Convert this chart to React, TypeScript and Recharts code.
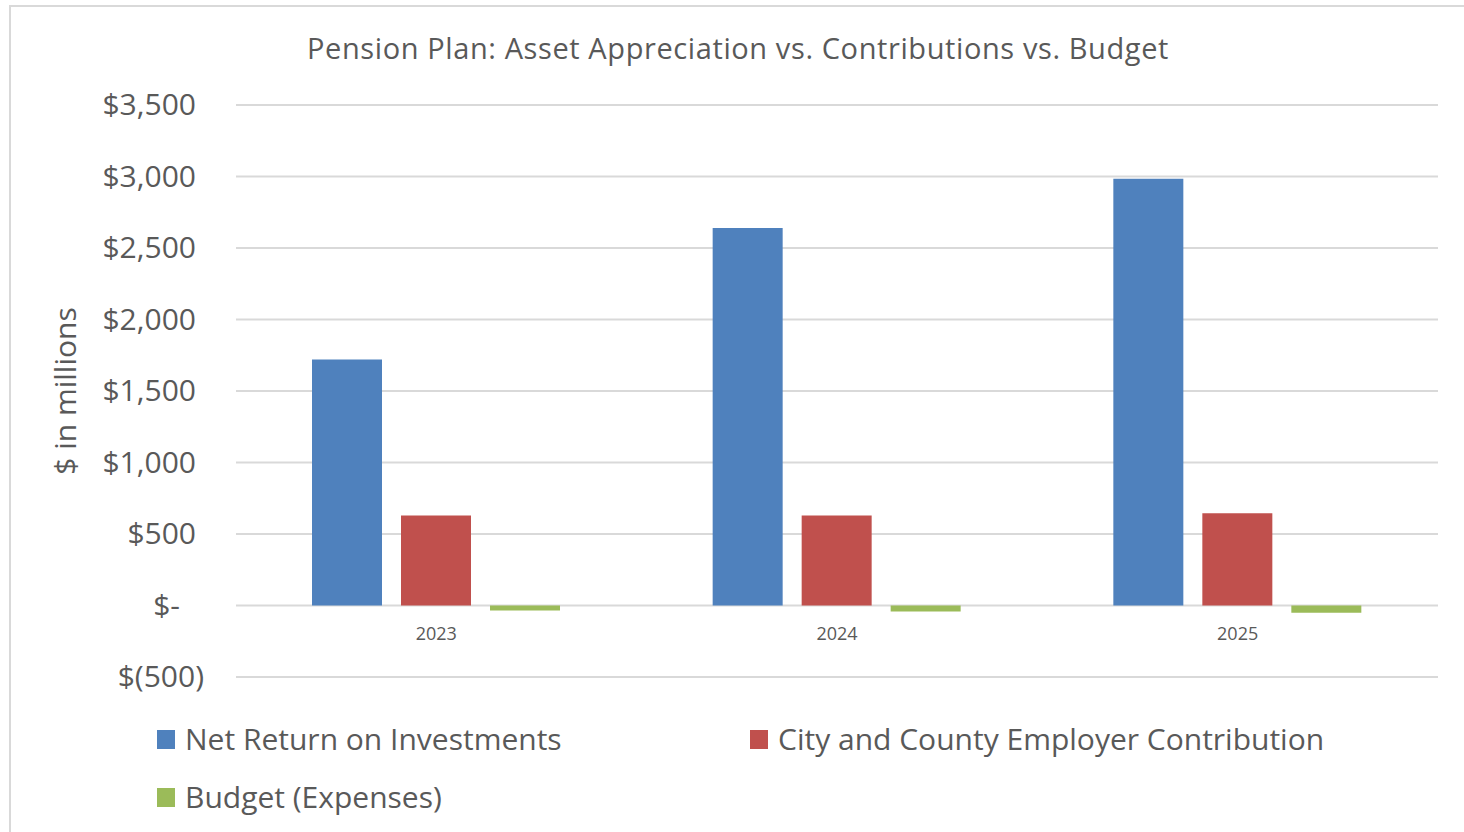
import React from 'react';
import { BarChart, Bar, XAxis, YAxis, CartesianGrid, Legend } from 'recharts';

const years = ['2023', '2024', '2025'];
const netReturn = [1720, 2640, 2985];
const employerContribution = [630, 630, 645];
const budgetExpenses = [-35, -42, -50];
const yTicks = [-500, 0, 500, 1000, 1500, 2000, 2500, 3000, 3500];

const seriesNames = [
  'Net Return on Investments',
  'City and County Employer Contribution',
  'Budget (Expenses)',
];
const seriesColors = ['#4F81BD', '#C0504D', '#9BBB59'];

const data = years.map((y, i) => ({
  year: y,
  net: netReturn[i],
  emp: employerContribution[i],
  bud: budgetExpenses[i],
}));

const FONT = '"Open Sans", sans-serif';
const TEXT = '#595959';

const fmtY = (v: number) => {
  if (v === 0) return '$-';
  if (v < 0) return `$(${Math.abs(v).toLocaleString('en-US')})`;
  return `$${v.toLocaleString('en-US')}`;
};

const YTick = (props: any) => {
  const { x, y, payload } = props;
  const v = payload.value as number;
  const dx = v === 0 ? -16 : v < 0 ? 8 : 0;
  return (
    <text x={x + dx} y={y} dy={10} textAnchor="end" fill={TEXT} fontSize={30} fontFamily={FONT}>
      {fmtY(v)}
    </text>
  );
};

// category labels sit just below the zero line (Excel style), not at the plot bottom
const XTick = (props: any) => {
  const { x, y, payload } = props;
  return (
    <text x={x} y={y} dy={-37} textAnchor="middle" fill={TEXT} fontSize={18} fontFamily={FONT}>
      {payload.value}
    </text>
  );
};

const LegendContent = () => {
  const item = (i: number, left: number, top: number) => (
    <div
      key={i}
      style={{ position: 'absolute', left, top, height: 40, display: 'flex', alignItems: 'center', whiteSpace: 'nowrap' }}
    >
      <div style={{ width: 18, height: 19, background: seriesColors[i], marginRight: 10 }} />
      <span style={{ fontFamily: FONT, fontSize: 30, color: TEXT, lineHeight: '40px' }}>{seriesNames[i]}</span>
    </div>
  );
  return (
    <div style={{ position: 'relative', width: 1464, height: 0 }}>
      {item(0, 157, 0)}
      {item(1, 750, 0)}
      {item(2, 157, 58)}
    </div>
  );
};

export default function App() {
  return (
    <div
      style={{
        position: 'absolute',
        left: 0,
        top: 0,
        width: 1464,
        height: 832,
        overflow: 'hidden',
        background: '#fff',
      }}
    >
      <div
        style={{
          position: 'absolute',
          left: 9,
          top: 5,
          width: 1470,
          height: 840,
          border: '2px solid #d9d9d9',
          boxSizing: 'border-box',
        }}
      />
      <div
        style={{
          position: 'absolute',
          left: 0,
          top: 28,
          width: 1476,
          textAlign: 'center',
          fontFamily: FONT,
          fontSize: 29,
          lineHeight: '40px',
          color: TEXT,
          whiteSpace: 'nowrap',
          letterSpacing: 0.6,
        }}
      >
        Pension Plan: Asset Appreciation vs. Contributions vs. Budget
      </div>
      <div
        style={{
          position: 'absolute',
          left: 65,
          top: 391,
          transform: 'translate(-50%, -50%) rotate(-90deg)',
          fontFamily: FONT,
          fontSize: 30,
          lineHeight: '40px',
          color: TEXT,
          whiteSpace: 'nowrap',
        }}
      >
        $ in millions
      </div>
      <div style={{ position: 'absolute', left: 0, top: 0 }}>
        <BarChart
          width={1464}
          height={832}
          data={data}
          margin={{ top: 105, right: 26, bottom: 125, left: 0 }}
          barSize={70}
          barGap={19}
        >
          <CartesianGrid vertical={false} stroke="#d9d9d9" strokeWidth={2} />
          <XAxis
            dataKey="year"
            axisLine={false}
            tickLine={false}
            tickSize={0}
            tickMargin={0}
            tick={<XTick />}
            height={30}
          />
          <YAxis
            width={236}
            domain={[-500, 3500]}
            ticks={yTicks}
            axisLine={false}
            tickLine={false}
            tickSize={0}
            tickMargin={40}
            tick={<YTick />}
            interval={0}
          />
          <Legend
            verticalAlign="bottom"
            content={<LegendContent />}
            wrapperStyle={{ top: 719, left: 0, width: 1464, height: 0 }}
          />
          <Bar dataKey="net" name={seriesNames[0]} fill={seriesColors[0]} isAnimationActive={false} />
          <Bar dataKey="emp" name={seriesNames[1]} fill={seriesColors[1]} isAnimationActive={false} />
          <Bar dataKey="bud" name={seriesNames[2]} fill={seriesColors[2]} isAnimationActive={false} />
        </BarChart>
      </div>
    </div>
  );
}
